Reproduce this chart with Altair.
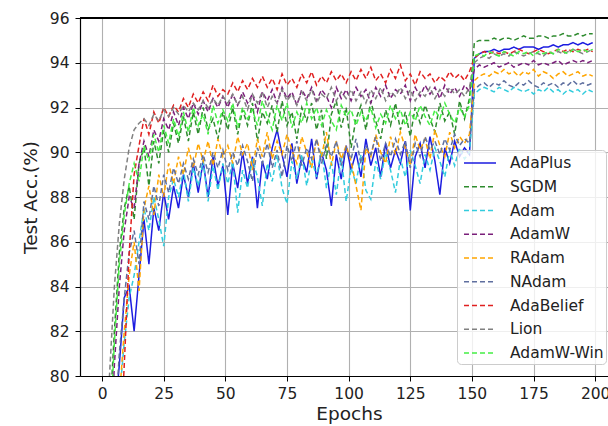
import altair as alt
import pandas as pd

# Test accuracy (%) sampled every other epoch; learning-rate decay at epoch 150
EPOCHS = list(range(1, 200, 2))

ADAPLUS = [72, 75, 78, 80.5, 83.5, 84, 82, 84.5, 87, 85, 87.5, 86.5, 88.2, 87, 88.5, 87.5, 89, 88, 89.5, 88.2, 89.6, 88, 89.8, 88.5, 89.4,
           87.2, 89.5, 88.4, 90, 88.6, 89.8, 87.5, 89.6, 88.8, 90.2, 91, 89.9, 88.9, 90.4, 88.6, 89.8, 89.1, 90.6, 88.8, 90, 89.2, 87.6, 89.9, 88.8, 90.3,
           89.2, 90, 88.9, 90.6, 89.4, 90.2, 88.9, 90.4, 89.3, 90.1, 89.5, 90.5, 87.4, 89.8, 90.4, 89.3, 90.7, 89.6, 88.1, 90.2, 89.5, 90.5, 89.8, 90.2, 89.9,
           94.2, 94.4, 94.5, 94.5, 94.6, 94.5, 94.6, 94.6, 94.7, 94.6, 94.7, 94.7, 94.7, 94.6, 94.7, 94.7, 94.8, 94.7, 94.8, 94.8, 94.9, 94.8, 94.9, 94.8, 94.9]
SGDM = [74, 78, 82, 85.5, 87.5, 88.5, 87, 89.5, 90.2, 88.5, 90.5, 89.5, 91, 90, 91.3, 90.4, 91.6, 90.5, 91.8, 90.8, 92, 91, 91.5, 90.6, 91.8,
        91, 92, 90.8, 91.9, 91.2, 92.2, 90.5, 91.8, 91.3, 92.1, 90.9, 92.3, 91.2, 91.8, 90.6, 92, 91.4, 92.2, 91, 91.9, 89.7, 91.7, 92.3, 91.1, 92,
        90.2, 91.5, 92.1, 91, 92.3, 91.4, 90.6, 91.9, 91.2, 92.2, 91, 91.8, 90.7, 92, 91.3, 92.1, 91.5, 90.9, 92.2, 91.4, 91.8, 90.8, 92.3, 91.5, 92.4,
        94.9, 95, 95, 95, 95.1, 95, 95.1, 95.1, 95, 95.1, 95.2, 95.1, 95.1, 95.2, 95.2, 95.1, 95.2, 95.2, 95.3, 95.2, 95.2, 95.3, 95.2, 95.3, 95.3]
ADAM = [68, 72, 76, 79, 81.5, 83.5, 84.5, 86, 87.5, 86.5, 88, 87, 85.8, 88, 88.8, 88, 89.2, 87.8, 89.3, 88.5, 89.6, 87.8, 89.4, 88.3, 89.5,
        88.6, 89.6, 87.3, 89.2, 88.4, 89.7, 88.9, 87.6, 89.5, 88.7, 89.9, 88.4, 87.7, 89.6, 88.8, 89.9, 88.5, 89.7, 88.9, 90.1, 88.4, 89.6, 88.1, 89.8, 87.8,
        89.3, 88.6, 89.9, 88.3, 87.9, 89.6, 88.8, 90, 89.2, 88.2, 89.7, 88.9, 90.1, 89.4, 88.6, 89.9, 89.2, 90.2, 89.6, 88.9, 90.1, 89.4, 90.2, 89.7, 90,
        92.6, 92.8, 92.9, 92.8, 92.7, 92.9, 92.8, 92.7, 92.9, 92.8, 92.7, 92.8, 92.6, 92.8, 92.7, 92.9, 92.7, 92.8, 92.6, 92.8, 92.7, 92.8, 92.6, 92.8, 92.7]
ADAMW = [70, 76, 80.5, 84, 86.5, 88, 87.5, 89.5, 90.5, 89.8, 91, 90.5, 91.5, 91, 91.8, 91.2, 92, 91.5, 92.2, 91.7, 92.3, 91.8, 92.4, 92, 92.5,
         92, 92.6, 92.1, 92.7, 92.2, 92.6, 91.8, 92.7, 92.3, 92.8, 92.2, 92.9, 92.4, 92.7, 92.1, 92.8, 92.4, 92.9, 92.3, 92.8, 92.5, 92, 92.9, 92.4, 92.8,
         92.3, 92.9, 92.5, 92.8, 92.2, 92.9, 92.5, 93, 92.4, 92.8, 92.6, 93, 92.3, 92.9, 92.5, 93, 92.6, 92.9, 92.4, 93, 92.6, 92.9, 92.5, 93, 92.7,
         93.7, 93.9, 93.8, 93.9, 94, 93.8, 93.9, 94, 93.8, 93.9, 94, 93.9, 94.1, 93.9, 94, 93.9, 94, 94.1, 93.9, 94, 94.1, 94, 94.1, 94, 94.1]
RADAM = [66, 71, 75.5, 79, 82, 84.5, 86, 83.8, 87.5, 88.5, 87.2, 89, 88, 89.5, 88.6, 89.8, 89, 90.2, 89.3, 90.4, 89.6, 90.5, 89.4, 90.6, 89.8,
         90.3, 89.5, 90.7, 89.9, 90.4, 89.2, 90.6, 89.8, 90.9, 89.7, 90.5, 89.9, 90.8, 90.1, 89.5, 90.7, 90, 89.3, 90.6, 89.8, 90.9, 89.4, 90.5, 89.7, 90.3,
         89.6, 88.5, 87.4, 90.2, 89.8, 90.8, 90, 89.5, 90.7, 89.9, 90.9, 90.2, 89.4, 90.8, 90.1, 90.6, 89.7, 91, 90.3, 89.8, 90.9, 90.2, 90.7, 90.4, 90.8,
         93.2, 93.4, 93.5, 93.4, 93.6, 93.5, 93.7, 93.5, 93.6, 93.4, 93.6, 93.5, 93.7, 93.4, 93.6, 93.5, 93.3, 93.5, 93.6, 93.4, 93.5, 93.6, 93.4, 93.5, 93.4]
NADAM = [69, 73.5, 77.5, 81, 83.5, 85.5, 86.5, 85, 87.8, 87, 88.5, 87.6, 89, 88.2, 89.3, 88.6, 89.5, 88.8, 89.7, 89, 89.9, 89.1, 90, 89.3, 90.1,
         89.2, 90, 89.4, 90.3, 89.6, 88.7, 90.2, 89.5, 90.4, 89.3, 90.1, 88.9, 90.3, 89.6, 90.5, 89.4, 90.2, 89.7, 90.6, 89.5, 90.3, 89.8, 90.5, 89.4, 90.2,
         89.7, 90.6, 89.5, 90.3, 89.9, 90.7, 89.6, 90.4, 89.8, 90.6, 89.9, 90.5, 89.3, 90.4, 89.8, 90.7, 90.1, 90.5, 89.9, 90.6, 90.1, 90.8, 90.3, 90.6, 90.4,
         92.8, 93, 93.1, 92.9, 93.1, 93, 93.2, 93, 92.9, 93.1, 93, 93.2, 93, 92.9, 93.1, 93, 93.1, 92.9, 93.1, 93, 93.2, 93, 93.1, 93, 93.1]
ADABELIEF = [60, 66, 71, 76, 80.5, 85.5, 89, 90.3, 91.5, 90.8, 91.8, 91.3, 92, 91.6, 92.1, 91.8, 92.4, 92, 92.6, 92.2, 92.7, 92.3, 93, 92.5, 92.8,
             92.6, 93.1, 92.7, 93.2, 92.8, 93.3, 92.9, 93.4, 92.9, 93.3, 92.8, 93.5, 93, 93.3, 92.9, 93.5, 93.1, 93.6, 93, 93.4, 93.1, 93.6, 93.2, 93.5, 93.1,
             93.6, 93.2, 93.7, 93.3, 93.8, 93.2, 93.5, 93.1, 93.7, 93.3, 93.9, 93.2, 93.5, 93, 93.6, 93.3, 93.5, 93.1, 93.4, 93.2, 93.6, 93.3, 93.5, 93.2, 93.6,
             94.2, 94.4, 94.5, 94.4, 94.5, 94.4, 94.5, 94.4, 94.5, 94.6, 94.5, 94.4, 94.5, 94.6, 94.5, 94.4, 94.5, 94.6, 94.5, 94.6, 94.5, 94.6, 94.5, 94.6, 94.5]
LION = [76, 80, 84, 86.8, 88.8, 90.2, 91, 91.3, 91.5, 91.2, 91.7, 91.4, 91.9, 91.6, 92, 91.7, 92.1, 91.8, 92.2, 91.9, 92.3, 92, 92.4, 92.1, 92.5,
        92.2, 92.6, 92.1, 92.5, 91.9, 92.6, 92.2, 92.7, 92, 92.5, 92.2, 92.8, 92.3, 92.6, 92.1, 92.7, 92.3, 92.8, 92.2, 92.6, 92.4, 92.9, 92.3, 92.7, 92.4,
        92.8, 92.3, 92.7, 92.2, 92.8, 92.4, 92.9, 92.3, 92.7, 92.5, 92.9, 92.4, 92.8, 92.3, 92.7, 92.5, 92.9, 92.4, 92.8, 92.5, 92.9, 92.6, 92.8, 92.5, 92.9,
        94, 94.2, 94.3, 94.2, 94.4, 94.3, 94.4, 94.3, 94.5, 94.4, 94.3, 94.4, 94.5, 94.4, 94.3, 94.5, 94.4, 94.5, 94.4, 94.5, 94.6, 94.5, 94.4, 94.5, 94.6]
ADAMW_WIN = [72, 77, 81.5, 85, 87.2, 88.6, 89.5, 88.7, 90.3, 89.6, 90.8, 90, 91.2, 90.4, 91.5, 90.7, 91.8, 90.9, 92, 91.2, 91.7, 90.8, 92.1, 91.3, 91.9,
             91.4, 92.2, 91.1, 92, 91.5, 91.9, 91.2, 92.3, 91.6, 91, 92.1, 91.4, 92.2, 91.1, 91.8, 91.3, 92.2, 91.5, 92, 91.2, 91.9, 91.4, 91, 92.1, 91.6,
             91.9, 91.2, 91.8, 91.4, 92, 91.1, 91.7, 91.3, 92.1, 91.5, 91.9, 91.2, 91.8, 91.4, 92.1, 91.6, 91.2, 91.9, 91.5, 92.2, 91.7, 91.3, 92, 91.6, 92.1,
             94.3, 94.4, 94.3, 94.5, 94.4, 94.3, 94.5, 94.4, 94.3, 94.5, 94.4, 94.5, 94.3, 94.5, 94.4, 94.5, 94.4, 94.6, 94.5, 94.4, 94.6, 94.5, 94.6, 94.5, 94.6]

NAMES = ["AdaPlus", "SGDM", "Adam", "AdamW", "RAdam", "NAdam", "AdaBelief", "Lion", "AdamW-Win"]
SERIES = [ADAPLUS, SGDM, ADAM, ADAMW, RADAM, NADAM, ADABELIEF, LION, ADAMW_WIN]
COLORS = ["#1c1ce0", "#2e8b2e", "#33ccdd", "#7a1f7a", "#ffa500", "#5f6f9f", "#e02020", "#808080", "#44ee44"]
DASHES = [[1, 0]] + [[5, 3]] * 8

rows = []
for name, vals in zip(NAMES, SERIES):
    for ep, v in zip(EPOCHS, vals):
        rows.append({"Epoch": ep, "Acc": v, "Optimizer": name})
df = pd.DataFrame(rows)

FONT = "DejaVu Sans"

x_scale = alt.Scale(domain=[-8.95, 205.2], nice=False, zero=False)
y_scale = alt.Scale(domain=[80, 96], nice=False, zero=False)

# legend key: a horizontal stroke, drawn mostly to the right of the symbol centre
KEY_PATH = "M-0.6,0H2.6"

lines = alt.Chart(df).mark_line(strokeWidth=1.5, clip=True).encode(
    x=alt.X("Epoch:Q", scale=x_scale,
            axis=alt.Axis(values=[0, 25, 50, 75, 100, 125, 150, 175, 200], title="Epochs",
                          titleX=269, titleY=28, labelPadding=5)),
    y=alt.Y("Acc:Q", scale=y_scale,
            axis=alt.Axis(values=[80, 82, 84, 86, 88, 90, 92, 94, 96], title="Test Acc.(%)",
                          titleX=-40)),
    color=alt.Color("Optimizer:N", scale=alt.Scale(domain=NAMES, range=COLORS),
                    sort=NAMES,
                    legend=alt.Legend(title=None, orient="none", legendX=377, legendY=132,
                                      symbolType=KEY_PATH, symbolSize=400, symbolStrokeWidth=1.5,
                                      labelFontSize=15.5, labelFont=FONT, labelColor="#222222",
                                      labelOffset=29, rowPadding=3.75, padding=2,
                                      fillColor="rgba(255,255,255,0.8)", strokeColor="#cccccc",
                                      cornerRadius=4)),
    strokeDash=alt.StrokeDash("Optimizer:N", scale=alt.Scale(domain=NAMES, range=DASHES),
                              sort=NAMES, legend=None),
)

top_spine = alt.Chart(df).mark_rule(color="black", strokeWidth=1.2).encode(y=alt.datum(96))

chart = alt.layer(lines, top_spine).properties(
    width=528, height=358,
    autosize=alt.AutoSizeParams(type="none"),
    padding={"left": 80, "top": 18, "right": 0, "bottom": 50},
).configure_view(stroke=None).configure_axis(
    domainColor="black", domainWidth=1.2, tickColor="black", tickSize=5, tickWidth=1,
    gridColor="#b0b0b0", gridWidth=1.1, labelFont=FONT, labelFontSize=15.5, labelColor="#222222",
    titleFont=FONT, titleFontSize=18.5, titleFontWeight="normal", titleColor="#222222",
    labelPadding=6,
)

chart.save("out.html", embed_options={"renderer": "svg", "actions": False})
